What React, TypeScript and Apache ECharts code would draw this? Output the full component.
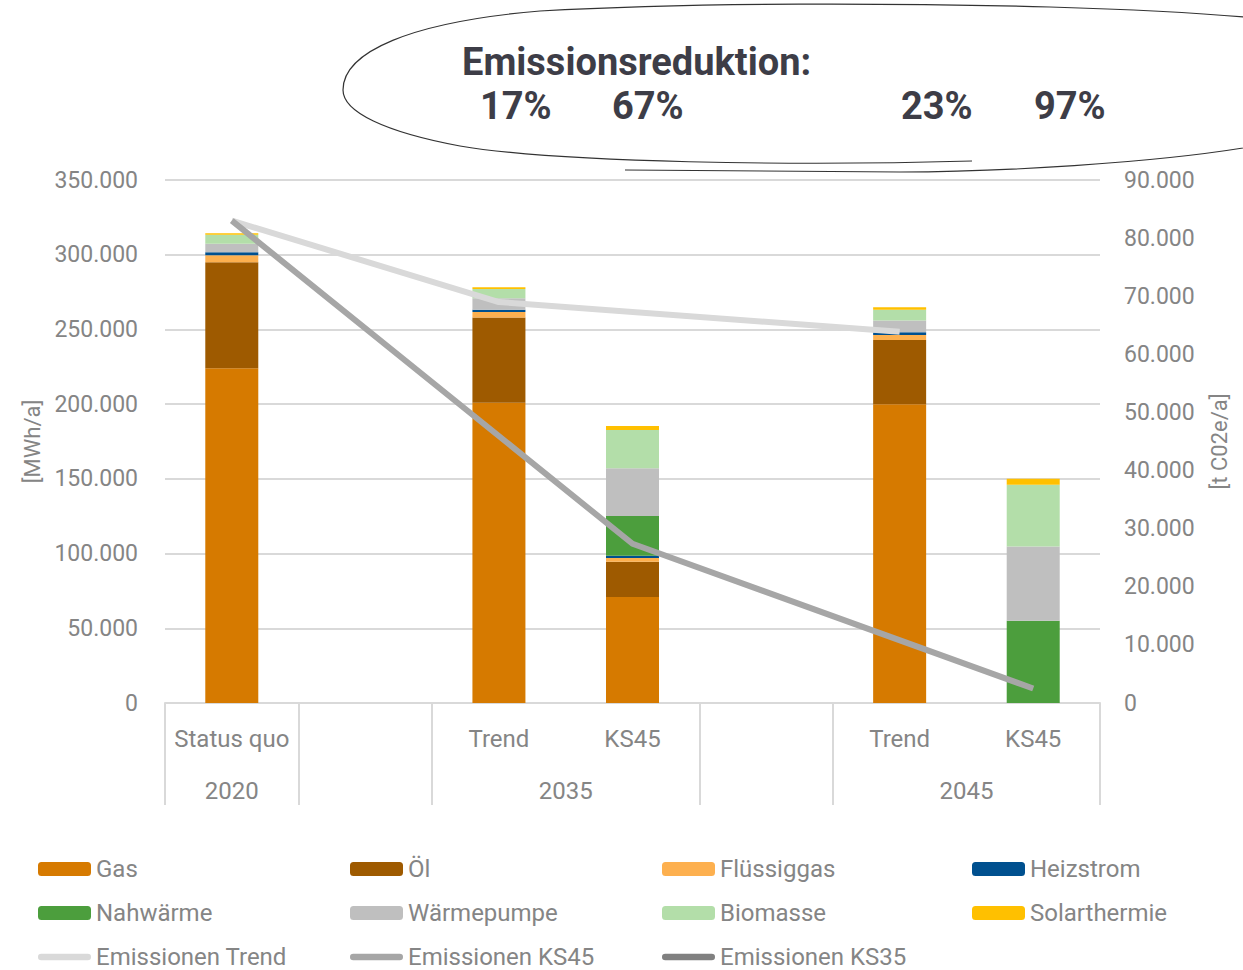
import React, { useEffect, useRef } from "react";
import * as echarts from "echarts";

// ---------- data ----------
const categories = ["Status quo", "", "Trend", "KS45", "", "Trend", "KS45"];
const years = ["2020", "", "2035", "", "2045"];
const yearSpans = [[0, 1], [1, 2], [2, 4], [4, 5], [5, 7]];

const gas = [224000, null, 201000, 71000, null, 200000, 0];
const oel = [71000, null, 57000, 23500, null, 43000, 0];
const fluessiggas = [4700, null, 3600, 2500, null, 3300, 0];
const heizstrom = [2000, null, 1500, 1500, null, 1800, 0];
const nahwaerme = [0, null, 0, 26600, null, 0, 55000];
const waermepumpe = [5600, null, 7800, 32000, null, 7800, 49700];
const biomasse = [6000, null, 6200, 25600, null, 7200, 41300];
const solarthermie = [1100, null, 1100, 2700, null, 1800, 4000];

const emTrend = [83000, null, 69000, null, null, 63900, null];
const emKS45 = [83000, null, null, 27400, null, null, 2500];
const emKS35: (number | null)[] = [null, null, null, null, null, null, null];

const reductionTitle = "Emissionsreduktion:";
const reductions = ["17%", "67%", "23%", "97%"];

const leftTicks = { min: 0, max: 350000, interval: 50000 };
const rightTicks = { min: 0, max: 90000, interval: 10000 };

// ---------- styles ----------
const FONT = "Roboto, 'DejaVu Sans', sans-serif";
const GRAY = "#858585";
const GRID = "#d9d9d9";
const LINE_ICON = "path://M4 0 L60 0 A4 4 0 0 1 60 8 L4 8 A4 4 0 0 1 4 0 Z";

const fmt = (v: number) =>
  String(Math.round(v)).replace(/\B(?=(\d{3})+(?!\d))/g, ".");

const barDefs = [
  { name: "Gas", data: gas, color: "#d67a00" },
  { name: "Öl", data: oel, color: "#9e5a00" },
  { name: "Flüssiggas", data: fluessiggas, color: "#fdb04f" },
  { name: "Heizstrom", data: heizstrom, color: "#00508f" },
  { name: "Nahwärme", data: nahwaerme, color: "#4c9e3d" },
  { name: "Wärmepumpe", data: waermepumpe, color: "#bfbfbf" },
  { name: "Biomasse", data: biomasse, color: "#b3dea9" },
  { name: "Solarthermie", data: solarthermie, color: "#ffc000" },
];

const lineDefs = [
  { name: "Emissionen Trend", data: emTrend, color: "#d9d9d9" },
  { name: "Emissionen KS45", data: emKS45, color: "#a6a6a6" },
  { name: "Emissionen KS35", data: emKS35, color: "#808080" },
];

const loopPath =
  "M 972 161 C 800 166 560 163 460 146 C 385 132 343 112 343 90 " +
  "C 343 52 410 22 540 11 C 700 2 900 3 1050 7 C 1150 10 1230 14 1290 22 " +
  "C 1330 60 1310 130 1243 148 C 1150 163 1000 172 900 172 C 800 172 700 171 625 170";

export default function App() {
  const ref = useRef<HTMLDivElement>(null);

  useEffect(() => {
    if (!ref.current) return;
    echarts.graphic.registerShape(
      "loop",
      echarts.graphic.extendPath(loopPath, {}) as any
    );
    const chart = echarts.init(ref.current, undefined, { renderer: "svg" });

    const yearPos = yearSpans.map(([a, b]) => (a + b) / 2);
    const yearLabelAt = (v: number) => {
      const i = yearPos.findIndex((p) => Math.abs(p - v) < 1e-6);
      return i >= 0 ? years[i] : "";
    };
    const boundaries = new Set<number>();
    yearSpans.forEach(([a]) => boundaries.add(a));

    const lineNames = new Set(lineDefs.map((l) => l.name));
    const item = (n: string) => (lineNames.has(n) ? { name: n, icon: LINE_ICON } : { name: n });

    const legendCommon = {
      orient: "vertical",
      top: 857,
      height: 140,
      padding: 0,
      itemWidth: 53,
      itemHeight: 14,
      itemGap: 20,
      symbolKeepAspect: true,
      textStyle: { fontSize: 24, color: GRAY, fontFamily: FONT },
    } as any;

    const pctX = [480, 612, 901, 1034];

    const option: any = {
      animation: false,
      backgroundColor: "#ffffff",
      textStyle: { fontFamily: FONT },
      grid: { left: 165, right: 143, top: 180, bottom: 267, containLabel: false },
      legend: [
        { ...legendCommon, left: 38, data: ["Gas", "Nahwärme", "Emissionen Trend"].map(item) },
        { ...legendCommon, left: 350, data: ["Öl", "Wärmepumpe", "Emissionen KS45"].map(item) },
        { ...legendCommon, left: 662, data: ["Flüssiggas", "Biomasse", "Emissionen KS35"].map(item) },
        { ...legendCommon, left: 972, data: ["Heizstrom", "Solarthermie"].map(item) },
      ],
      xAxis: [
        {
          type: "category",
          data: categories,
          position: "bottom",
          axisLine: { lineStyle: { color: GRID, width: 2 } },
          axisTick: {
            show: true,
            length: 102,
            interval: (i: number) => boundaries.has(i),
            lineStyle: { color: GRID, width: 2 },
          },
          axisLabel: { interval: 0, margin: 24, fontSize: 24, color: GRAY, fontFamily: FONT },
          splitLine: { show: false },
        },
        {
          type: "value",
          min: 0,
          max: categories.length,
          interval: 0.5,
          position: "bottom",
          axisLine: { show: false },
          axisTick: { show: false },
          splitLine: { show: false },
          axisLabel: {
            margin: 76,
            fontSize: 24,
            color: GRAY,
            fontFamily: FONT,
            showMinLabel: true,
            showMaxLabel: true,
            formatter: (v: number) => yearLabelAt(v),
          },
        },
      ],
      yAxis: [
        {
          type: "value",
          position: "left",
          ...leftTicks,
          axisLine: { show: false },
          axisTick: { show: false },
          splitLine: { lineStyle: { color: GRID, width: 2 } },
          axisLabel: { margin: 27, fontSize: 23, color: GRAY, fontFamily: FONT, formatter: fmt },
          name: "[MWh/a]",
          nameLocation: "middle",
          nameRotate: 90,
          nameGap: 120,
          nameTextStyle: { fontSize: 22, color: GRAY, fontFamily: FONT },
        },
        {
          type: "value",
          position: "right",
          ...rightTicks,
          axisLine: { show: false },
          axisTick: { show: false },
          splitLine: { show: false },
          axisLabel: { margin: 24, fontSize: 23, color: GRAY, fontFamily: FONT, formatter: fmt },
          name: "[t C02e/a]",
          nameLocation: "middle",
          nameRotate: 90,
          nameGap: 108,
          nameTextStyle: { fontSize: 22, color: GRAY, fontFamily: FONT },
        },
      ],
      series: [
        ...barDefs.map((b) => ({
          name: b.name,
          type: "bar",
          stack: "total",
          barWidth: 53,
          data: b.data,
          itemStyle: { color: b.color },
          z: 2,
        })),
        ...lineDefs.map((l) => ({
          name: l.name,
          type: "line",
          yAxisIndex: 1,
          data: l.data,
          connectNulls: true,
          symbol: "none",
          showSymbol: false,
          lineStyle: { color: l.color, width: 6 },
          itemStyle: { color: l.color },
          z: 5,
        })),
      ],
      graphic: [
        {
          type: "loop",
          x: 0,
          y: 0,
          silent: true,
          style: { fill: "none", stroke: "#333333", lineWidth: 1.2 },
        },
        {
          type: "text",
          left: 462,
          top: 43,
          style: {
            text: reductionTitle,
            font: `bold 38px ${FONT}`,
            fill: "#3d3d47",
          },
        },
        ...reductions.map((r, i) => ({
          type: "text",
          left: pctX[i],
          top: 87,
          style: { text: r, font: `bold 38px ${FONT}`, fill: "#3d3d47" },
        })),
      ],
    };

    chart.setOption(option);
    return () => chart.dispose();
  }, []);

  return (
    <div
      ref={ref}
      style={{ position: "fixed", left: 0, top: 0, width: 1243, height: 970, background: "#fff" }}
    />
  );
}
